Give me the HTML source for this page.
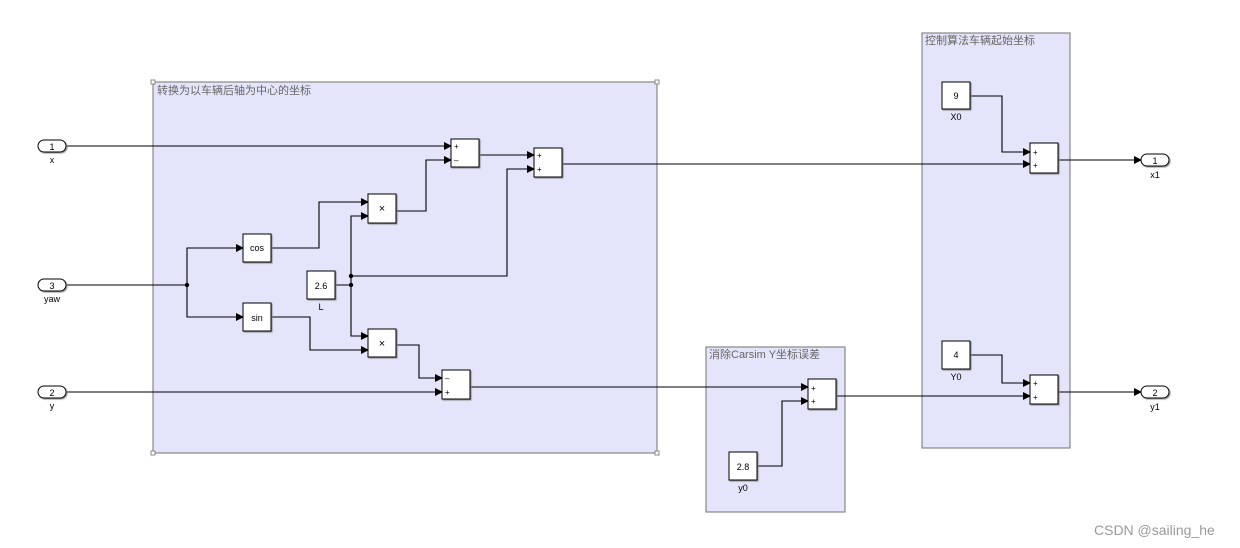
<!DOCTYPE html>
<html><head><meta charset="utf-8"><style>
html,body{margin:0;padding:0;background:#fff;}
svg{display:block;}
text{font-family:"Liberation Sans","Noto Sans CJK SC",sans-serif;}
</style></head><body>
<svg width="1240" height="548" viewBox="0 0 1240 548" xmlns="http://www.w3.org/2000/svg">
<defs>
<marker id="a" markerWidth="8" markerHeight="8" refX="7" refY="4" orient="auto" markerUnits="userSpaceOnUse"><path d="M0,0 L8,4 L0,8 z" fill="#000"/></marker>
<filter id="s"><feDropShadow dx="1" dy="1" stdDeviation="0.6" flood-color="#888"/></filter>
</defs>
<!-- areas -->
<rect x="153" y="82" width="504" height="371" fill="#e4e4fb" stroke="#888" stroke-width="1.2"/>
<rect x="151" y="80" width="4" height="4" fill="#fff" stroke="#888"/>
<rect x="655" y="80" width="4" height="4" fill="#fff" stroke="#888"/>
<rect x="151" y="451" width="4" height="4" fill="#fff" stroke="#888"/>
<rect x="655" y="451" width="4" height="4" fill="#fff" stroke="#888"/>
<text x="157" y="94" font-size="11" fill="#666">转换为以车辆后轴为中心的坐标</text>
<rect x="706" y="347" width="139" height="165" fill="#e4e4fb" stroke="#888" stroke-width="1.2"/>
<text x="709" y="358" font-size="11" fill="#666">消除Carsim Y坐标误差</text>
<rect x="922" y="33" width="148" height="415" fill="#e4e4fb" stroke="#888" stroke-width="1.2"/>
<text x="925" y="44" font-size="11" fill="#666">控制算法车辆起始坐标</text>

<g fill="none" stroke="#000" stroke-width="1.1">
<path d="M66,146 H451" marker-end="url(#a)"/>
<path d="M66,285 H187 V248 H243" marker-end="url(#a)"/>
<path d="M187,285 V317 H243" marker-end="url(#a)"/>
<path d="M66,392 H442" marker-end="url(#a)"/>
<path d="M271,248 H319 V202 H368" marker-end="url(#a)"/>
<path d="M271,317 H310 V350 H368" marker-end="url(#a)"/>
<path d="M335,285 H351 V216 H368" marker-end="url(#a)"/>
<path d="M351,285 V336 H368" marker-end="url(#a)"/>
<path d="M351,276 H507 V169 H534" marker-end="url(#a)"/>
<path d="M396,211 H426 V160 H451" marker-end="url(#a)"/>
<path d="M396,345 H419 V378 H442" marker-end="url(#a)"/>
<path d="M479,155 H534" marker-end="url(#a)"/>
<path d="M563,164 H1030" marker-end="url(#a)"/>
<path d="M470,387 H808" marker-end="url(#a)"/>
<path d="M757,466 H782 V401 H808" marker-end="url(#a)"/>
<path d="M836,396 H1030" marker-end="url(#a)"/>
<path d="M970,96 H1002 V152 H1030" marker-end="url(#a)"/>
<path d="M970,355 H1002 V383 H1030" marker-end="url(#a)"/>
<path d="M1058,160 H1141" marker-end="url(#a)"/>
<path d="M1058,392 H1141" marker-end="url(#a)"/>
</g>
<circle cx="187" cy="285" r="2.2"/><circle cx="351" cy="285" r="2.2"/><circle cx="351" cy="276" r="2.2"/>

<g fill="#fff" stroke="#000" stroke-width="1" filter="url(#s)">
<rect x="38" y="140" width="28" height="12" rx="6"/>
<rect x="38" y="279" width="28" height="12" rx="6"/>
<rect x="38" y="386" width="28" height="12" rx="6"/>
<rect x="1141" y="154" width="28" height="12" rx="6"/>
<rect x="1141" y="386" width="28" height="12" rx="6"/>
<rect x="451" y="139" width="28" height="28"/>
<rect x="534" y="148" width="28" height="29"/>
<rect x="368" y="194" width="28" height="29"/>
<rect x="243" y="234" width="28" height="28"/>
<rect x="307" y="271" width="28" height="28"/>
<rect x="243" y="303" width="28" height="28"/>
<rect x="368" y="329" width="28" height="28"/>
<rect x="442" y="370" width="28" height="29"/>
<rect x="808" y="379" width="28" height="30"/>
<rect x="729" y="452" width="28" height="28"/>
<rect x="942" y="82" width="28" height="27"/>
<rect x="1030" y="143" width="28" height="30"/>
<rect x="942" y="341" width="28" height="28"/>
<rect x="1030" y="375" width="28" height="29"/>
</g>
<g font-size="9" text-anchor="middle" fill="#000">
<text x="52" y="150">1</text><text x="52" y="163">x</text>
<text x="52" y="289">3</text><text x="52" y="302">yaw</text>
<text x="52" y="396">2</text><text x="52" y="409">y</text>
<text x="1155" y="164">1</text><text x="1155" y="178">x1</text>
<text x="1155" y="396">2</text><text x="1155" y="410">y1</text>
<text x="257" y="251">cos</text>
<text x="257" y="321">sin</text>
<text x="321" y="289">2.6</text><text x="321" y="310">L</text>
<text x="382" y="212" font-size="11">×</text>
<text x="382" y="347" font-size="11">×</text>
<text x="743" y="470">2.8</text><text x="743" y="491">y0</text>
<text x="956" y="99">9</text><text x="956" y="120">X0</text>
<text x="956" y="358">4</text><text x="956" y="380">Y0</text>
</g>
<g font-size="8" fill="#000">
<text x="454" y="149">+</text><text x="454" y="163">–</text>
<text x="537" y="158">+</text><text x="537" y="172">+</text>
<text x="445" y="381">–</text><text x="445" y="395">+</text>
<text x="811" y="391">+</text><text x="811" y="404">+</text>
<text x="1033" y="155">+</text><text x="1033" y="168">+</text>
<text x="1033" y="386">+</text><text x="1033" y="400">+</text>
</g>
<text x="1094" y="535" font-size="14" fill="#999">CSDN @sailing_he</text>
</svg>
</body></html>
